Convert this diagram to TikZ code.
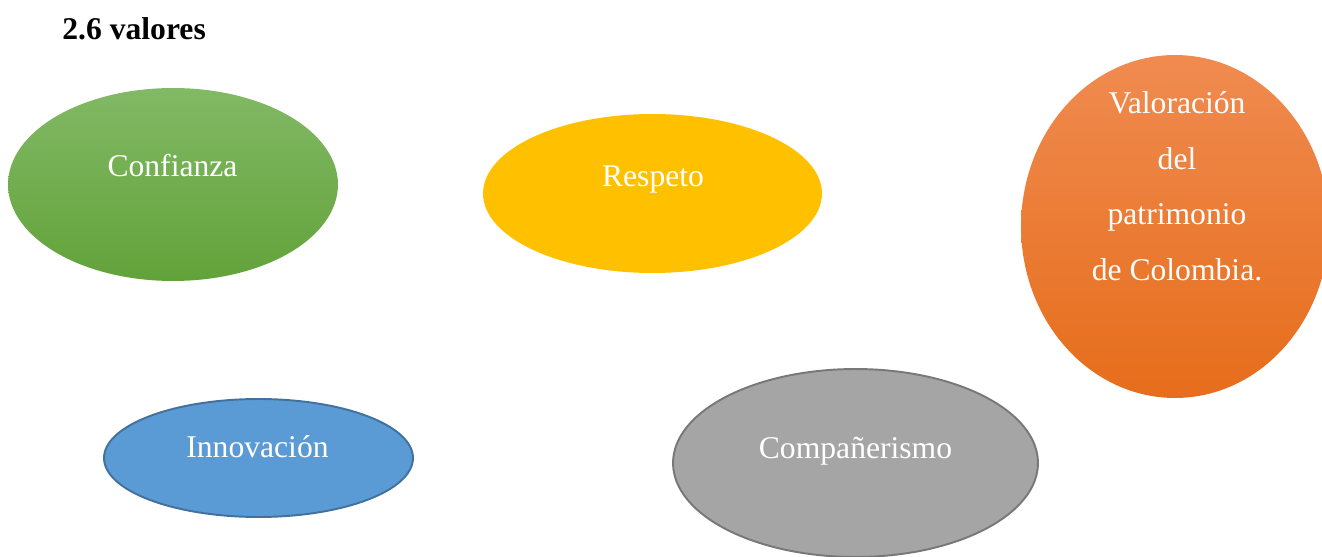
\documentclass[tikz,border=0pt]{standalone}
\usepackage{fontspec}
\setmainfont{Liberation Serif}
\usetikzlibrary{shapes.geometric}
\definecolor{verdeA}{HTML}{82B965}
\definecolor{verdeB}{HTML}{62A23A}
\definecolor{naranjaA}{HTML}{F08B50}
\definecolor{naranjaB}{HTML}{E66D1B}
\definecolor{amarillo}{HTML}{FFC000}
\definecolor{azul}{HTML}{5B9BD5}
\definecolor{azulborde}{HTML}{41719C}
\definecolor{gris}{HTML}{A5A5A5}
\definecolor{grisborde}{HTML}{787878}

\begin{document}
\begin{tikzpicture}[x=0.02cm,y=-0.02cm,
  valor/.style={ellipse,inner sep=0pt},
  etiqueta/.style={text=white,font=\fontsize{18}{31.6}\selectfont,align=center,inner sep=0pt}]
\clip (0,0) rectangle (1322,557);
\node[anchor=base west,inner sep=0pt,font=\fontsize{18}{22}\selectfont\bfseries] (titulo) at (62,40) {2.6 valores};
% elipses
\node[valor,top color=verdeA,bottom color=verdeB,minimum width=6.6cm,minimum height=3.86cm] (confianza) at (173,184.5) {};
\node[valor,fill=amarillo,minimum width=6.78cm,minimum height=3.18cm] (respeto) at (652.5,193.5) {};
\node[valor,top color=naranjaA,bottom color=naranjaB,minimum width=6.16cm,minimum height=6.86cm] (patrimonio) at (1175,226.5) {};
\node[valor,fill=azul,draw=azulborde,line width=1.1pt,minimum width=6.18cm,minimum height=2.36cm] (innovacion) at (258.5,458) {};
\node[valor,fill=gris,draw=grisborde,line width=1.1pt,minimum width=7.3cm,minimum height=3.76cm] (companerismo) at (855.5,463) {};
% textos
\node[etiqueta,anchor=base] (tconfianza) at (172.5,177) {Confianza};
\node[etiqueta,anchor=base] (trespeto) at (653,187) {Respeto};
\node[etiqueta] (tpatrimonio) at (1177,186) {Valoración\\del\\patrimonio\\de Colombia.};
\node[etiqueta,anchor=base] (tinnovacion) at (257.5,457) {Innovación};
\node[etiqueta,anchor=base] (tcompanerismo) at (855.5,458) {Compañerismo};
\end{tikzpicture}
\end{document}
